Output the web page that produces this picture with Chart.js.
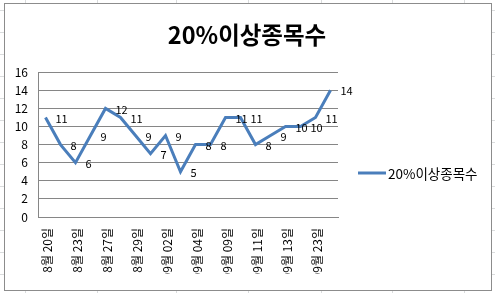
<!DOCTYPE html>
<html>
<head>
<meta charset="utf-8">
<script src="https://cdn.jsdelivr.net/npm/chart.js@4/dist/chart.umd.min.js"></script>
<style>
  html, body { margin: 0; padding: 0; }
  body {
    width: 495px; height: 293px; overflow: hidden; position: relative;
    background-color: #fff;
    background-image:
      linear-gradient(to right, transparent 25px, #dadcdd 25px 26px, transparent 26px 97px, #dadcdd 97px 98px,
        transparent 98px 176px, #dadcdd 176px 177px, transparent 177px 248px, #dadcdd 248px 249px,
        transparent 249px 321px, #dadcdd 321px 322px, transparent 322px 392px, #dadcdd 392px 393px,
        transparent 393px 464px, #dadcdd 464px 465px, transparent 465px),
      linear-gradient(to bottom, transparent 21px, #dadcdd 21px);
    background-size: 100% 100%, 100% 22px;
    background-position: 0 0, 0 -11px;
  }
  #frame {
    position: absolute; left: 4px; top: 3px; width: 486px; height: 286px;
    border: 1px solid #8c8c8c; background: #fff;
  }
</style>
</head>
<body>
<div id="frame"><canvas id="chart" width="486" height="286"></canvas></div>
<script>
// dates (only every other one is shown on the axis)
const dates = [
  "8월 20일", "8월 21일", "8월 23일", "8월 26일", "8월 27일", "8월 28일", "8월 29일", "8월 30일",
  "09월 02일", "09월 03일", "09월 04일", "09월 06일", "09월 09일", "09월 10일", "09월 11일", "09월 12일",
  "09월 13일", "09월 16일", "09월 23일", "09월 24일"
];
const counts = [11, 8, 6, 9, 12, 11, 9, 7, 9, 5, 8, 8, 11, 11, 8, 9, 10, 10, 11, 14];
const seriesName = "20%이상종목수";
const yTicks = [0, 2, 4, 6, 8, 10, 12, 14, 16];

const FONT = "'Noto Sans CJK KR', 'Noto Sans', sans-serif";
const BLUE = "#4a7ebb";
const GRID = "#868686";

// value labels to the right of each point, like excel's "right" position
const valueLabels = {
  id: "valueLabels",
  afterDatasetsDraw(chart) {
    const ctx = chart.ctx;
    const meta = chart.getDatasetMeta(0);
    ctx.save();
    ctx.font = "11px " + FONT;
    ctx.fillStyle = "#000";
    ctx.textAlign = "left";
    ctx.textBaseline = "middle";
    meta.data.forEach((pt, i) => {
      ctx.fillText(String(counts[i]), pt.x + 10, pt.y + 1);
    });
    ctx.restore();
  }
};

// the built-in legend is capped to a quarter of the width, so draw it here
const sideLegend = {
  id: "sideLegend",
  afterDraw(chart) {
    const ctx = chart.ctx;
    const a = chart.chartArea;
    const x = a.right + 20;
    const y = Math.round((chart.titleBlock.bottom + chart.height - 16) / 2);
    const ds = chart.data.datasets[0];
    ctx.save();
    ctx.strokeStyle = ds.borderColor;
    ctx.lineWidth = 3;
    ctx.beginPath();
    ctx.moveTo(x, y);
    ctx.lineTo(x + 28, y);
    ctx.stroke();
    ctx.font = "13.5px " + FONT;
    ctx.fillStyle = "#000";
    ctx.textAlign = "left";
    ctx.textBaseline = "middle";
    ctx.fillText(ds.label, x + 30, y + 1);
    ctx.restore();
  }
};

new Chart(document.getElementById("chart"), {
  type: "line",
  data: {
    labels: dates,
    datasets: [{
      label: seriesName,
      data: counts,
      borderColor: BLUE,
      backgroundColor: BLUE,
      borderWidth: 3,
      pointRadius: 0,
      tension: 0
    }]
  },
  options: {
    responsive: false,
    animation: false,
    layout: { padding: { left: 0, right: 2, top: 0, bottom: 16 } },
    plugins: {
      title: {
        display: true,
        text: seriesName,
        color: "#000",
        font: { family: FONT, size: 23.5, weight: "bold" },
        padding: { top: 17, bottom: 23 }
      },
      legend: { display: false },
      tooltip: { enabled: false }
    },
    scales: {
      x: {
        offset: true,
        grid: { display: false, drawTicks: false },
        border: { display: true, color: GRID },
        afterFit(scale) { scale.height = 57; },
        ticks: {
          autoSkip: false,
          maxRotation: 90,
          minRotation: 90,
          padding: 11,
          labelOffset: 2,
          color: "#000",
          font: { family: FONT, size: 12 },
          callback(value, index) { return index % 2 === 0 ? dates[index] : ""; }
        }
      },
      y: {
        min: 0,
        max: 16,
        afterFit(scale) { scale.width = 33; },
        afterBuildTicks(scale) { scale.ticks = yTicks.map(v => ({ value: v })); },
        grid: { color: GRID, drawTicks: false },
        border: { display: true, color: GRID },
        ticks: {
          padding: 10,
          color: "#000",
          font: { family: FONT, size: 12 }
        }
      },
      // empty right-hand axis that only reserves room for the legend
      spacer: {
        type: "linear",
        position: "right",
        grid: { display: false, drawTicks: false },
        border: { display: false },
        ticks: { display: false },
        afterFit(scale) { scale.width = 151; }
      }
    }
  },
  plugins: [valueLabels, sideLegend]
});
</script>
</body>
</html>
